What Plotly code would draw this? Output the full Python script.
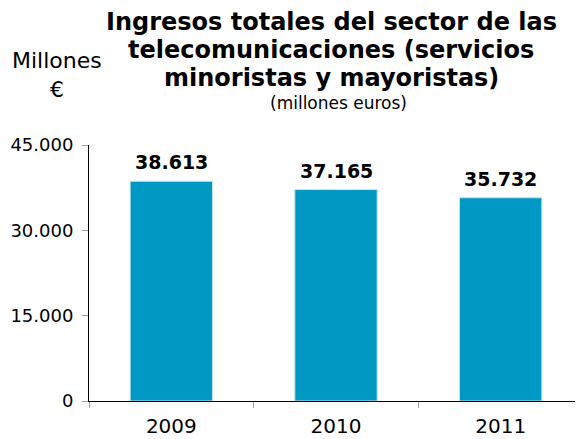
import plotly.graph_objects as go

# Ingresos totales (millones de euros)
years = ['2009', '2010', '2011']
ingresos = [38613, 37165, 35732]
y_ticks = [0, 15000, 30000, 45000]
y_tick_text = ['0', '15.000', '30.000', '45.000']
title_lines = [
    'Ingresos totales del sector de las',
    'telecomunicaciones (servicios',
    'minoristas y mayoristas)',
]

font_family = 'Verdana, DejaVu Sans, sans-serif'

# the page body adds an 8px offset, so the figure is shrunk by that much
fig = go.Figure(data=[
    go.Bar(
        x=years,
        y=ingresos,
        marker_color='#0099c4',
        marker_line=dict(color='#bfe3ef', width=1),
    )
])

fig.update_layout(
    width=575,
    height=431,
    margin=dict(l=81, r=0, t=137, b=38),
    plot_bgcolor='white',
    paper_bgcolor='white',
    showlegend=False,
    bargap=0.5,
    font=dict(family=font_family, color='black'),
    xaxis=dict(
        type='category',
        showline=True,
        linecolor='black',
        linewidth=1,
        ticks='outside',
        tickson='boundaries',
        tickcolor='#a0a0a0',
        ticklen=6,
        tickangle=0,
        ticklabelstandoff=7,
        tickfont=dict(size=20),
        showgrid=False,
        automargin=False,
    ),
    yaxis=dict(
        range=[0, 45000],
        tickvals=y_ticks,
        ticktext=y_tick_text,
        showline=True,
        linecolor='black',
        linewidth=1,
        ticks='outside',
        tickcolor='#a0a0a0',
        ticklen=6,
        ticklabelstandoff=5,
        tickfont=dict(size=18),
        showgrid=False,
        zeroline=False,
        automargin=False,
    ),
)

# helpers: screen pixel -> paper coords (plot area spans x 89..583, y 145..401)
def px_x(x):
    return (x - 89) / 494

def px_y(y):
    return (401 - y) / 256

# value labels above the bars (x given as category index)
for i, v in enumerate(ingresos):
    fig.add_annotation(
        x=i, y=v, xref='x', yref='y',
        text='<b>' + f'{v:,}'.replace(',', '.') + '</b>',
        showarrow=False, yanchor='bottom', yshift=6,
        font=dict(size=19),
    )

# title
for i, line in enumerate(title_lines):
    fig.add_annotation(
        x=px_x(331), y=px_y(22 + 28 * i), xref='paper', yref='paper',
        text='<b>' + line + '</b>',
        showarrow=False, xanchor='center', yanchor='middle',
        font=dict(size=24),
    )

fig.add_annotation(
    x=px_x(338), y=px_y(103), xref='paper', yref='paper',
    text='(millones euros)',
    showarrow=False, xanchor='center', yanchor='middle',
    font=dict(size=17),
)

fig.add_annotation(
    x=px_x(57), y=px_y(60), xref='paper', yref='paper',
    text='Millones',
    showarrow=False, xanchor='center', yanchor='middle',
    font=dict(size=22),
)
fig.add_annotation(
    x=px_x(57), y=px_y(89), xref='paper', yref='paper',
    text='€',
    showarrow=False, xanchor='center', yanchor='middle',
    font=dict(size=22),
)

fig.write_html("out.html")
